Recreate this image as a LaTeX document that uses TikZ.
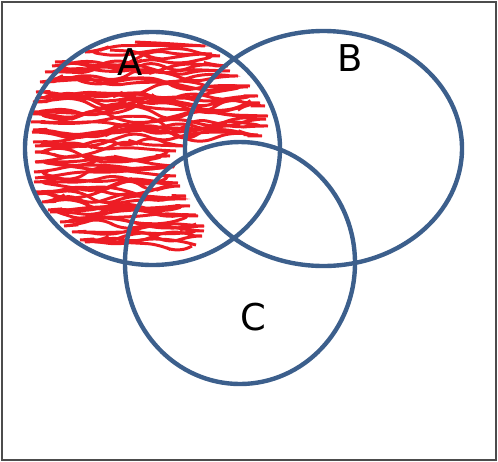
\documentclass[tikz,border=0pt]{standalone}
\usepackage{fontspec}
\setmainfont{DejaVu Sans}
\usetikzlibrary{decorations.pathmorphing}
\definecolor{vennblue}{RGB}{60,95,140}
\definecolor{scribred}{RGB}{237,28,36}

\begin{document}
\begin{tikzpicture}[x=0.02cm,y=-0.02cm,
  venn/.style={line width=2.5pt,vennblue},
  scribble/.style={line width=1.7pt,scribred,rounded corners=7pt,
    decoration={random steps,segment length=15pt,amplitude=5.5pt},decorate},
  lbl/.style={font=\fontsize{21}{25}\selectfont,inner sep=0pt}]
\path[use as bounding box] (0,0) rectangle (498,461);
\draw[line width=0.8pt,black!70] (2,2) rectangle (496,460);

% the red scribble over A
\pgfmathsetseed{11}
\draw[scribble] (135,42) -- (205,46)
  \foreach \y/\l/\r in {52/85/220,62/55/228,72/45/238,82/40/250,
    92/36/258,102/33/265,112/31/268,122/31/268,132/32/262,142/33/185,
    152/35/170,162/35/175,172/34/176,182/34/180,192/35/186,202/42/190,
    212/50/198,222/60/204,232/72/202,242/85/192}{
    -- (\l,\y) -- (\r,\y+4)};
\pgfmathsetseed{5}
\draw[scribble] (110,50) -- (212,54)
  \foreach \y/\l/\r in {66/52/230,82/42/248,98/36/260,
    114/33/266,130/33/258,146/35/176,162/36/174,178/35/178,
    194/36/186,210/48/196,226/64/204,240/80/196}{
    -- (\l,\y) -- (\r,\y+5)};

% the three sets
\draw[venn] (152.5,148.5) ellipse [x radius=127.5,y radius=116.5];
\draw[venn] (323.5,148.5) ellipse [x radius=138.5,y radius=117.5];
\draw[venn] (240,263) ellipse [x radius=115,y radius=121];

\node[lbl] (labA) at (130,62) {A};
\node[lbl] (labB) at (350,58) {B};
\node[lbl] (labC) at (253,317) {C};
\end{tikzpicture}
\end{document}
